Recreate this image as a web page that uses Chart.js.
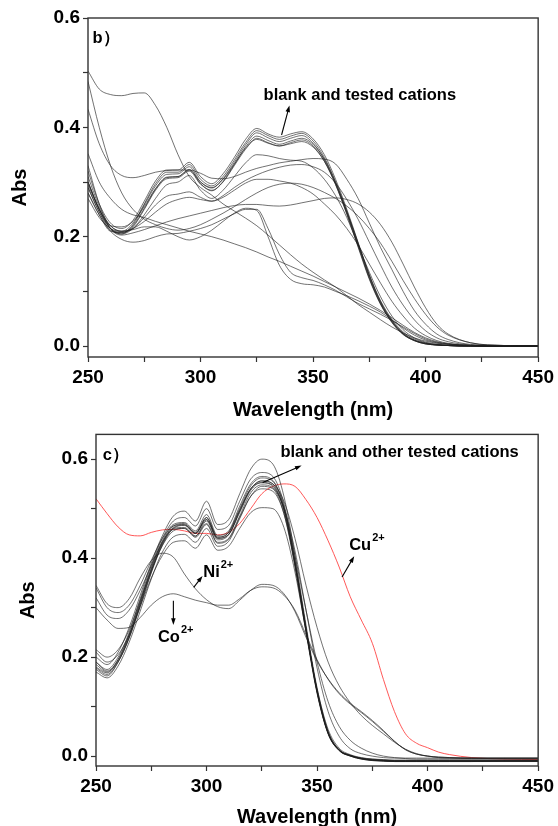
<!DOCTYPE html>
<html>
<head>
<meta charset="utf-8">
<script src="https://cdn.jsdelivr.net/npm/chart.js@4.4.1/dist/chart.umd.min.js"></script>
<style>
  html, body { margin: 0; padding: 0; background: #fff; overflow: hidden; }
  #wrap { position: relative; width: 558px; height: 826px; }
  .panel { position: absolute; left: 0; width: 558px; }
  #top-panel { top: 0; height: 430px; }
  #bottom-panel { top: 420px; height: 420px; }
</style>
</head>
<body>
<div id="wrap">
  <div class="panel" id="top-panel"><canvas id="chart-b"></canvas></div>
  <div class="panel" id="bottom-panel"><canvas id="chart-c"></canvas></div>
</div>
<script>
// --- DATA ---
const WAVELENGTHS = [250,255,260,265,270, 275,280,285,290,295, 300,305,310,315,320, 325,330,335,340,345,
                     350,355,360,365,370, 375,380,385,390,395, 400,405,410,420,435, 450];

const X_TICKS = [250,275,300,325,350,375,400,425,450];
const X_LABELS = ['250','','300','','350','','400','','450'];
const Y_TICKS = [0,0.1,0.2,0.3,0.4,0.5,0.6];
const Y_LABELS = ['0.0','','0.2','','0.4','','0.6'];

// panel b) - blank and tested cations
const B_M1 = [0.31,0.255,0.22,0.21,0.225, 0.26,0.297,0.318,0.318,0.332, 0.305,0.293,0.31,0.34,0.372, 0.394,0.385,0.378,0.384,0.389, 0.375,0.345,0.3,0.245,0.185, 0.125,0.078,0.045,0.022,0.01, 0.004,0.002,0.001,0,0, 0];
const B_M2 = [0.3,0.25,0.215,0.205,0.222, 0.258,0.293,0.314,0.315,0.328, 0.3,0.289,0.306,0.336,0.368, 0.39,0.381,0.374,0.38,0.385, 0.371,0.341,0.296,0.241,0.181, 0.122,0.076,0.043,0.021,0.01, 0.004,0.002,0.001,0,0, 0];
const B_M3 = [0.32,0.26,0.225,0.215,0.23, 0.265,0.302,0.322,0.322,0.336, 0.31,0.297,0.315,0.345,0.378, 0.398,0.388,0.382,0.388,0.392, 0.379,0.35,0.305,0.25,0.19, 0.13,0.081,0.047,0.024,0.011, 0.005,0.002,0.001,0,0, 0];
const B_M4 = [0.29,0.245,0.212,0.207,0.218, 0.25,0.285,0.306,0.308,0.32, 0.296,0.285,0.3,0.33,0.36, 0.38,0.372,0.366,0.372,0.377, 0.366,0.338,0.295,0.242,0.183, 0.124,0.077,0.044,0.022,0.01, 0.004,0.002,0.001,0,0, 0];
const B_M5 = [0.28,0.24,0.21,0.208,0.22, 0.252,0.287,0.309,0.31,0.323, 0.297,0.284,0.301,0.332,0.364, 0.384,0.376,0.369,0.375,0.38, 0.369,0.342,0.3,0.247,0.188, 0.128,0.08,0.046,0.023,0.011, 0.005,0.002,0.001,0,0, 0];
const B_M6 = [0.295,0.25,0.22,0.218,0.228, 0.255,0.288,0.308,0.31,0.322, 0.3,0.29,0.305,0.333,0.362, 0.378,0.371,0.366,0.37,0.374, 0.364,0.338,0.297,0.245,0.188, 0.13,0.083,0.049,0.026,0.013, 0.006,0.003,0.001,0,0, 0];
const B_I  = [0.3,0.25,0.215,0.205,0.215, 0.24,0.27,0.295,0.3,0.312, 0.285,0.27,0.285,0.31,0.335, 0.35,0.348,0.343,0.34,0.338, 0.326,0.305,0.275,0.235,0.185, 0.135,0.09,0.055,0.03,0.015, 0.007,0.003,0.001,0,0, 0];
const B_J  = [0.29,0.245,0.215,0.208,0.215, 0.235,0.258,0.274,0.278,0.282, 0.272,0.265,0.272,0.285,0.298, 0.305,0.305,0.302,0.298,0.29, 0.278,0.26,0.24,0.215,0.185, 0.15,0.115,0.082,0.055,0.033, 0.019,0.01,0.005,0.001,0, 0];
const B_L  = [0.3,0.25,0.22,0.21,0.215, 0.228,0.245,0.26,0.268,0.272, 0.268,0.265,0.275,0.29,0.303, 0.313,0.321,0.327,0.331,0.332, 0.328,0.318,0.298,0.268,0.232, 0.19,0.148,0.108,0.075,0.048, 0.028,0.015,0.008,0.002,0, 0];
const B_C  = [0.433,0.37,0.33,0.312,0.308, 0.312,0.318,0.321,0.322,0.322, 0.316,0.307,0.306,0.31,0.318, 0.325,0.33,0.335,0.338,0.341, 0.343,0.342,0.333,0.305,0.27, 0.225,0.18,0.14,0.1,0.065, 0.04,0.022,0.012,0.003,0.001, 0];
const B_K  = [0.33,0.26,0.215,0.203,0.207, 0.213,0.22,0.227,0.233,0.238, 0.243,0.248,0.253,0.257,0.259, 0.259,0.257,0.256,0.258,0.262, 0.266,0.27,0.271,0.268,0.26, 0.245,0.222,0.19,0.15,0.108, 0.07,0.04,0.022,0.006,0.001, 0];
const B_B  = [0.503,0.47,0.46,0.458,0.462, 0.463,0.44,0.4,0.35,0.31, 0.29,0.276,0.26,0.247,0.234, 0.22,0.203,0.185,0.167,0.15, 0.135,0.121,0.108,0.092,0.076, 0.062,0.048,0.035,0.024,0.015, 0.009,0.005,0.003,0.001,0, 0];
const B_D  = [0.484,0.4,0.33,0.28,0.25, 0.232,0.222,0.215,0.212,0.215, 0.222,0.232,0.243,0.255,0.268, 0.28,0.29,0.296,0.298,0.296, 0.29,0.281,0.27,0.256,0.238, 0.215,0.188,0.155,0.12,0.087, 0.058,0.035,0.02,0.006,0.001, 0];
const B_E  = [0.352,0.3,0.27,0.25,0.24, 0.235,0.228,0.222,0.216,0.21, 0.205,0.2,0.194,0.187,0.18, 0.172,0.163,0.155,0.146,0.137, 0.128,0.118,0.108,0.098,0.088, 0.077,0.065,0.052,0.038,0.025, 0.015,0.008,0.004,0.001,0, 0];
const B_F  = [0.27,0.235,0.215,0.21,0.213, 0.218,0.218,0.21,0.2,0.194, 0.2,0.212,0.228,0.243,0.252, 0.248,0.2,0.148,0.122,0.114, 0.112,0.108,0.1,0.092,0.083, 0.073,0.062,0.048,0.033,0.02, 0.011,0.006,0.003,0.001,0, 0];
const B_G  = [0.28,0.24,0.21,0.195,0.19, 0.193,0.2,0.205,0.206,0.21, 0.215,0.222,0.232,0.242,0.25, 0.25,0.215,0.168,0.135,0.125, 0.12,0.112,0.102,0.09,0.078, 0.068,0.058,0.047,0.035,0.023, 0.013,0.007,0.004,0.001,0, 0];

// panel c) - blank, other cations, Ni2+, Co2+ and Cu2+
const C_N1  = [0.2,0.185,0.21,0.26,0.325, 0.39,0.445,0.485,0.495,0.475, 0.515,0.468,0.478,0.53,0.58, 0.6,0.59,0.525,0.405,0.265, 0.138,0.05,0.013,0.001,-0.004, -0.006,-0.007,-0.008,-0.008,-0.008, -0.008,-0.008,-0.008,-0.008,-0.008, -0.008];
const C_N2  = [0.19,0.175,0.2,0.25,0.318, 0.385,0.44,0.475,0.482,0.465, 0.5,0.458,0.466,0.515,0.56, 0.573,0.565,0.51,0.395,0.258, 0.132,0.047,0.012,0.001,-0.005, -0.008,-0.009,-0.01,-0.01,-0.01, -0.01,-0.01,-0.01,-0.01,-0.01, -0.01];
const C_N3  = [0.18,0.168,0.195,0.245,0.312, 0.38,0.435,0.468,0.472,0.455, 0.488,0.446,0.455,0.505,0.55, 0.565,0.557,0.502,0.39,0.255, 0.13,0.046,0.011,0,-0.006, -0.009,-0.01,-0.011,-0.011,-0.011, -0.011,-0.011,-0.011,-0.011,-0.01, -0.01];
const C_N4  = [0.175,0.162,0.19,0.24,0.306, 0.372,0.428,0.458,0.46,0.444, 0.475,0.437,0.447,0.495,0.54, 0.556,0.55,0.497,0.386,0.252, 0.128,0.045,0.011,0,-0.006, -0.009,-0.01,-0.011,-0.011,-0.011, -0.011,-0.011,-0.011,-0.011,-0.01, -0.01];
const C_N5  = [0.17,0.158,0.182,0.23,0.293, 0.358,0.412,0.443,0.448,0.432, 0.46,0.424,0.434,0.48,0.525, 0.545,0.54,0.49,0.382,0.25, 0.127,0.045,0.012,0.001,-0.005, -0.008,-0.009,-0.01,-0.01,-0.01, -0.01,-0.01,-0.01,-0.01,-0.01, -0.01];
const C_N6  = [0.21,0.19,0.205,0.245,0.302, 0.36,0.405,0.432,0.435,0.42, 0.447,0.416,0.424,0.46,0.492, 0.502,0.5,0.462,0.372,0.252, 0.136,0.054,0.016,0.003,-0.003, -0.006,-0.008,-0.009,-0.009,-0.009, -0.009,-0.009,-0.009,-0.009,-0.009, -0.009];
const C_N7  = [0.34,0.3,0.29,0.305,0.345, 0.395,0.44,0.465,0.468,0.45, 0.478,0.44,0.448,0.495,0.54, 0.552,0.545,0.497,0.39,0.258, 0.133,0.049,0.013,0.002,-0.004, -0.007,-0.008,-0.009,-0.009,-0.009, -0.009,-0.009,-0.009,-0.009,-0.009, -0.009];
const C_N8  = [0.32,0.285,0.278,0.295,0.335, 0.385,0.432,0.46,0.462,0.445, 0.47,0.432,0.44,0.485,0.532, 0.548,0.542,0.502,0.415,0.295, 0.178,0.09,0.04,0.015,0.005, 0,-0.003,-0.004,-0.004,-0.004, -0.004,-0.004,-0.004,-0.004,-0.004, -0.004];
const C_N9  = [0.215,0.2,0.215,0.255,0.315, 0.375,0.425,0.455,0.46,0.442, 0.468,0.43,0.438,0.482,0.525, 0.54,0.535,0.49,0.388,0.256, 0.132,0.047,0.012,0.001,-0.005, -0.008,-0.009,-0.01,-0.01,-0.01, -0.01,-0.01,-0.01,-0.01,-0.01, -0.01];
const C_N10 = [0.178,0.165,0.19,0.238,0.302, 0.37,0.426,0.46,0.466,0.45, 0.482,0.442,0.452,0.5,0.546, 0.562,0.555,0.505,0.394,0.258, 0.131,0.047,0.012,0.001,-0.005, -0.008,-0.01,-0.011,-0.011,-0.011, -0.011,-0.011,-0.011,-0.011,-0.011, -0.011];
const C_T1  = [0.19,0.172,0.195,0.245,0.31, 0.378,0.432,0.465,0.47,0.452, 0.482,0.443,0.452,0.498,0.54, 0.556,0.55,0.515,0.44,0.345, 0.26,0.19,0.142,0.108,0.082, 0.062,0.045,0.028,0.014,0.005, 0,-0.003,-0.004,-0.005,-0.005, -0.005];
const C_T2  = [0.185,0.17,0.192,0.24,0.306, 0.374,0.43,0.462,0.467,0.45, 0.478,0.44,0.448,0.492,0.537, 0.553,0.547,0.5,0.405,0.295, 0.19,0.11,0.06,0.032,0.016, 0.006,0,-0.003,-0.005,-0.006, -0.006,-0.006,-0.006,-0.006,-0.006, -0.006];
const C_NI  = [0.345,0.308,0.3,0.318,0.36, 0.395,0.41,0.402,0.368,0.338, 0.316,0.302,0.298,0.315,0.335, 0.347,0.345,0.328,0.292,0.24, 0.192,0.156,0.128,0.107,0.09, 0.072,0.052,0.03,0.013,0.004, 0,-0.002,-0.003,-0.004,-0.004, -0.004];
const C_CO  = [0.3,0.275,0.258,0.26,0.28, 0.305,0.322,0.328,0.322,0.315, 0.31,0.305,0.305,0.318,0.335, 0.342,0.34,0.325,0.295,0.245, 0.195,0.155,0.126,0.105,0.088, 0.07,0.05,0.03,0.013,0.004, 0,-0.002,-0.003,-0.004,-0.004, -0.004];
const C_CU  = [0.52,0.49,0.463,0.447,0.445, 0.452,0.457,0.458,0.455,0.45, 0.45,0.447,0.452,0.47,0.5, 0.53,0.545,0.55,0.545,0.518, 0.482,0.435,0.382,0.322,0.275, 0.228,0.155,0.09,0.045,0.026, 0.017,0.008,0.003,-0.003,-0.006, -0.007];

const PANEL_B = [B_M1, B_M2, B_M3, B_M4, B_M5, B_M6, B_I, B_J, B_L, B_C, B_K, B_B, B_D, B_E, B_F, B_G];
const PANEL_C = [C_N1, C_N2, C_N3, C_N4, C_N5, C_N6, C_N7, C_N8, C_N9, C_N10, C_T1, C_T2, C_NI, C_CO];

// --- ESTILO ---
const FONT = '"Liberation Sans", Arial, sans-serif';
const LINE_GREY = 'rgba(30,30,30,0.7)';
const LINE_RED = '#ff4545';
Chart.defaults.font.family = FONT;
Chart.defaults.color = '#000';

function toPoints(values) {
    return WAVELENGTHS.map((w, i) => ({ x: w, y: values[i] }));
}

function makeDataset(values, color) {
    return {
        data: toPoints(values),
        borderColor: color,
        borderWidth: 0.9,
        pointRadius: 0,
        fill: false,
        cubicInterpolationMode: 'monotone'
    };
}

function drawArrow(ctx, x0, y0, x1, y1) {
    const head = 7;
    const ang = Math.atan2(y1 - y0, x1 - x0);
    ctx.beginPath();
    ctx.moveTo(x0, y0);
    ctx.lineTo(x1 - Math.cos(ang) * 4, y1 - Math.sin(ang) * 4);
    ctx.stroke();
    ctx.beginPath();
    ctx.moveTo(x1, y1);
    ctx.lineTo(x1 - head * Math.cos(ang - 0.33), y1 - head * Math.sin(ang - 0.33));
    ctx.lineTo(x1 - head * Math.cos(ang + 0.33), y1 - head * Math.sin(ang + 0.33));
    ctx.closePath();
    ctx.fill();
}

// marco, textos y flechas dibujados en coordenadas de datos
const notesPlugin = {
    id: 'notes',
    afterDatasetsDraw(chart, args, opts) {
        const { ctx, chartArea: a } = chart;
        const xs = chart.scales.x, ys = chart.scales.y;
        ctx.save();
        ctx.strokeStyle = '#333';
        ctx.lineWidth = 1.4;
        ctx.strokeRect(a.left, a.top, a.right - a.left, a.bottom - a.top);

        ctx.fillStyle = '#000';
        ctx.strokeStyle = '#000';
        ctx.lineWidth = 1.1;
        (opts.labels || []).forEach(l => {
            const px = xs.getPixelForValue(l.x);
            const py = ys.getPixelForValue(l.y);
            ctx.font = `bold ${l.size}px ${FONT}`;
            ctx.textAlign = 'left';
            ctx.textBaseline = 'middle';
            ctx.fillText(l.text, px, py);
            if (l.sup) {
                const w = ctx.measureText(l.text).width;
                ctx.font = `bold ${Math.round(l.size * 0.68)}px ${FONT}`;
                ctx.fillText(l.sup, px + w + 1, py - l.size * 0.45);
            }
        });
        (opts.arrows || []).forEach(ar => {
            drawArrow(ctx, xs.getPixelForValue(ar.x0), ys.getPixelForValue(ar.y0),
                      xs.getPixelForValue(ar.x1), ys.getPixelForValue(ar.y1));
        });
        ctx.restore();
    }
};

function makeOptions(cfg) {
    return {
        responsive: true,
        maintainAspectRatio: false,
        animation: false,
        events: [],
        layout: { padding: { left: 0, right: cfg.padRight, top: cfg.padTop, bottom: 0 } },
        plugins: {
            legend: { display: false },
            tooltip: { enabled: false },
            notes: cfg.notes
        },
        scales: {
            x: {
                type: 'linear',
                min: 250,
                max: 450,
                afterBuildTicks: s => { s.ticks = X_TICKS.map(v => ({ value: v })); },
                afterFit: s => { s.height = cfg.xHeight; },
                border: { display: false },
                grid: { drawOnChartArea: false, drawTicks: true, tickLength: 5, color: '#333', tickWidth: 1.2 },
                ticks: {
                    autoSkip: false, maxRotation: 0, padding: 4,
                    font: { size: 19, weight: 'bold' }, color: '#000',
                    callback: (v, i) => X_LABELS[i]
                },
                title: {
                    display: true, text: 'Wavelength (nm)',
                    font: { size: 20, weight: 'bold' }, color: '#000',
                    padding: { top: 0, bottom: cfg.xTitlePad }
                }
            },
            y: {
                min: cfg.yMin,
                max: cfg.yMax,
                afterBuildTicks: s => { s.ticks = Y_TICKS.map(v => ({ value: v })); },
                afterFit: s => { s.width = cfg.yWidth; },
                border: { display: false },
                grid: { drawOnChartArea: false, drawTicks: true, tickLength: 5, color: '#333', tickWidth: 1.2 },
                ticks: {
                    padding: 3,
                    font: { size: 19, weight: 'bold' }, color: '#000',
                    callback: (v, i) => Y_LABELS[i]
                },
                title: {
                    display: true, text: 'Abs',
                    font: { size: 20, weight: 'bold' }, color: '#000',
                    padding: { top: cfg.yTitlePad, bottom: 0 }
                }
            }
        }
    };
}

// --- PANEL b) ---
new Chart(document.getElementById('chart-b'), {
    type: 'line',
    data: { datasets: PANEL_B.map(v => makeDataset(v, LINE_GREY)) },
    options: makeOptions({
        yMin: -0.02, yMax: 0.6, padTop: 18, padRight: 15, yWidth: 88, xHeight: 73, xTitlePad: 8, yTitlePad: 8,
        notes: {
            labels: [
                { text: 'b）', x: 252, y: 0.563, size: 16.5 },
                { text: 'blank and tested cations', x: 328, y: 0.459, size: 16.5 }
            ],
            arrows: [ { x0: 336, y0: 0.386, x1: 339.5, y1: 0.44 } ]
        }
    }),
    plugins: [notesPlugin]
});

// --- PANEL c) ---
new Chart(document.getElementById('chart-c'), {
    type: 'line',
    data: {
        datasets: PANEL_C.map(v => makeDataset(v, LINE_GREY)).concat([makeDataset(C_CU, LINE_RED)])
    },
    options: makeOptions({
        yMin: -0.02, yMax: 0.65, padTop: 14, padRight: 15, yWidth: 96, xHeight: 74, xTitlePad: 11, yTitlePad: 16,
        notes: {
            labels: [
                { text: 'c）', x: 253, y: 0.607, size: 16.5 },
                { text: 'blank and other tested cations', x: 333.4, y: 0.613, size: 16.5 },
                { text: 'Ni', sup: '2+', x: 298.5, y: 0.372, size: 16.5 },
                { text: 'Co', sup: '2+', x: 278, y: 0.24, size: 16.5 },
                { text: 'Cu', sup: '2+', x: 364.5, y: 0.426, size: 16.5 }
            ],
            arrows: [
                { x0: 325.4, y0: 0.553, x1: 343, y1: 0.587 },
                { x0: 294.2, y0: 0.341, x1: 298.2, y1: 0.364 },
                { x0: 285, y0: 0.314, x1: 285, y1: 0.265 },
                { x0: 361.3, y0: 0.362, x1: 366.8, y1: 0.404 }
            ]
        }
    }),
    plugins: [notesPlugin]
});
</script>
</body>
</html>
